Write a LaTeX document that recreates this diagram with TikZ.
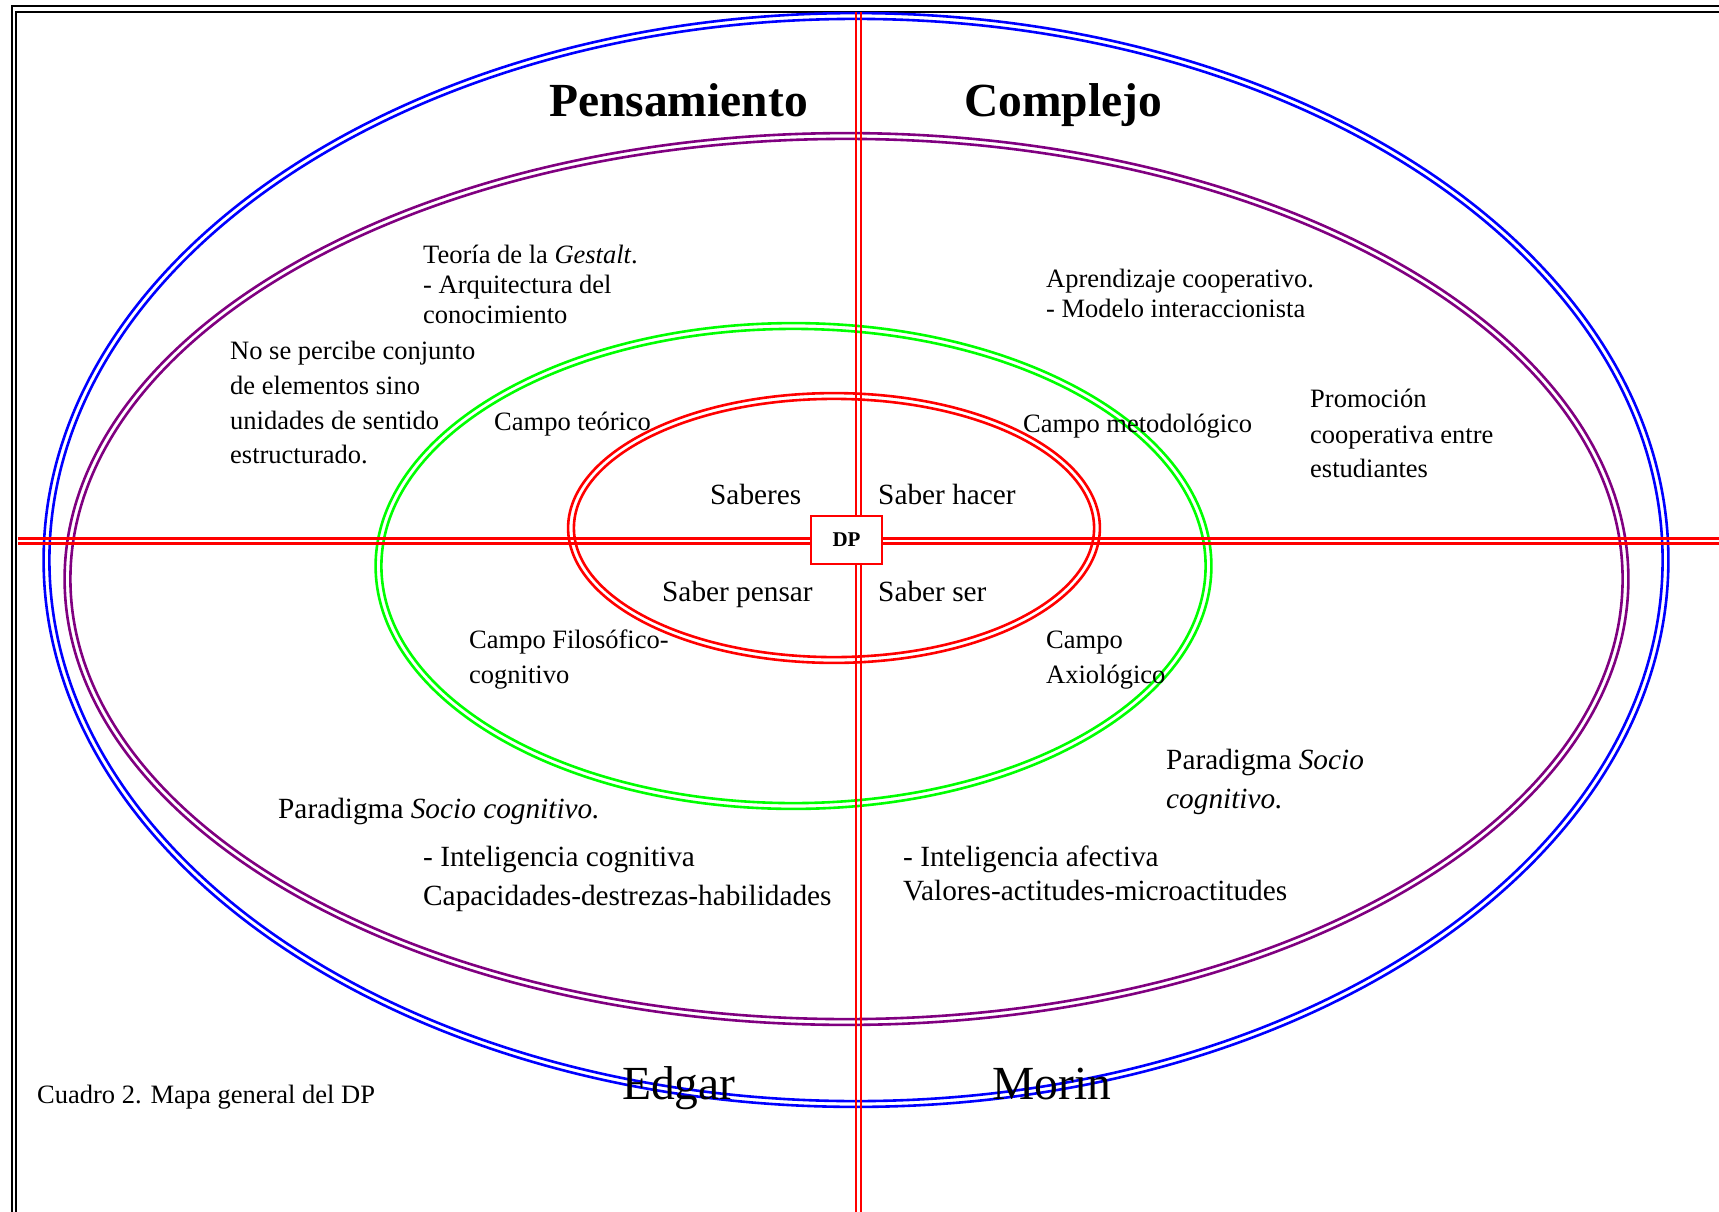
\documentclass[tikz,border=0pt]{standalone}
\usepackage{fontspec}
\setmainfont{Liberation Serif}
\definecolor{ringblue}{RGB}{0,0,255}
\definecolor{ringpurple}{RGB}{128,0,128}
\definecolor{ringgreen}{RGB}{0,255,0}
\definecolor{ringred}{RGB}{255,0,0}
\begin{document}
\begin{tikzpicture}[x=1pt,y=-1pt,
  ring/.style={line width=2.6pt},
  frameline/.style={line width=2.3pt, draw=black},
  txt/.style={anchor=base west, inner sep=0pt, font=\fontsize{26.5}{30}\selectfont},
  saber/.style={anchor=base west, inner sep=0pt, font=\fontsize{29.3}{33}\selectfont},
  title/.style={anchor=base west, inner sep=0pt, font=\bfseries\fontsize{47.5}{55}\selectfont},
  author/.style={anchor=base west, inner sep=0pt, font=\fontsize{47.5}{55}\selectfont},
]
\useasboundingbox (0,0) rectangle (1719,1212);

% double page frame
\draw[frameline] (12,1212) -- (12,6) -- (1719,6);
\draw[frameline] (16,1212) -- (16,12) -- (1719,12);

% concentric double ellipses
\foreach \d in {-2.9,2.9}{
  \draw[ring,draw=ringblue]   (856,560)   ellipse [x radius=809.5+\d, y radius=544+\d];
  \draw[ring,draw=ringpurple] (846.5,579) ellipse [x radius=779+\d,   y radius=443+\d];
  \draw[ring,draw=ringgreen]  (793.5,566) ellipse [x radius=415+\d,   y radius=240+\d];
  \draw[ring,draw=ringred]    (834,528)   ellipse [x radius=263+\d,   y radius=132+\d];
}

% double red axes
\coordinate (hL) at (18,541);
\coordinate (hR) at (1719,541);
\coordinate (vT) at (858.5,12);
\coordinate (vB) at (858.5,1212);
\foreach \d in {-2.6,2.6}{
  \draw[draw=ringred,line width=2.4pt] ([yshift=\d pt]hL) -- ([yshift=\d pt]hR);
  \draw[draw=ringred,line width=2.4pt] ([xshift=\d pt]vT) -- ([xshift=\d pt]vB);
}

% centre box
\node[draw=ringred, line width=1.8pt, fill=white, minimum width=71pt, minimum height=48pt,
      inner sep=0pt, font=\bfseries\fontsize{21}{24}\selectfont] (dp) at (846.5,540) {DP};

% titles
\node[title] (pens) at (549,117) {Pensamiento};
\node[title] (comp) at (964,117) {Complejo};
\node[author] (edgar) at (622,1099) {Edgar};
\node[author] (morin) at (992,1099) {Morin};

% upper left quadrant
\node[txt] (g1) at (423,263) {Teoría de la \textit{Gestalt}.};
\node[txt] (g2) at (423,293) {- Arquitectura del};
\node[txt] (g3) at (423,323) {conocimiento};
\node[txt] (p1) at (230,359) {No se percibe conjunto};
\node[txt] (p2) at (230,394) {de elementos sino};
\node[txt] (p3) at (230,429) {unidades de sentido};
\node[txt] (p4) at (230,463) {estructurado.};
\node[txt] (ct) at (494,430) {Campo teórico};

% upper right quadrant
\node[txt] (a1) at (1046,287) {Aprendizaje cooperativo.};
\node[txt] (a2) at (1046,317) {- Modelo interaccionista};
\node[txt] (cm) at (1023,432) {Campo metodológico};
\node[txt] (r1) at (1310,407) {Promoción};
\node[txt] (r2) at (1310,443) {cooperativa entre};
\node[txt] (r3) at (1310,477) {estudiantes};

% inner ring
\node[saber] (s1) at (710,504) {Saberes};
\node[saber] (s2) at (878,504) {Saber hacer};
\node[saber] (s3) at (662,601) {Saber pensar};
\node[saber] (s4) at (878,601) {Saber ser};

% lower quadrants
\node[txt] (f1) at (469,648) {Campo Filosófico-};
\node[txt] (f2) at (469,683) {cognitivo};
\node[txt] (x1) at (1046,648) {Campo};
\node[txt] (x2) at (1046,683) {Axiológico};
\node[saber] (sr1) at (1166,769) {Paradigma \textit{Socio}};
\node[saber] (sr2) at (1166,808) {\textit{cognitivo.}};
\node[saber] (sl) at (278,818) {Paradigma \textit{Socio cognitivo.}};
\node[saber] (ic1) at (423,866) {- Inteligencia cognitiva};
\node[saber] (ic2) at (423,905) {Capacidades-destrezas-habilidades};
\node[saber] (ia1) at (903,866) {- Inteligencia afectiva};
\node[saber] (ia2) at (903,900) {Valores-actitudes-microactitudes};

% caption
\node[txt] (cap) at (37,1103) {Cuadro 2. Mapa general del DP};
\end{tikzpicture}
\end{document}
